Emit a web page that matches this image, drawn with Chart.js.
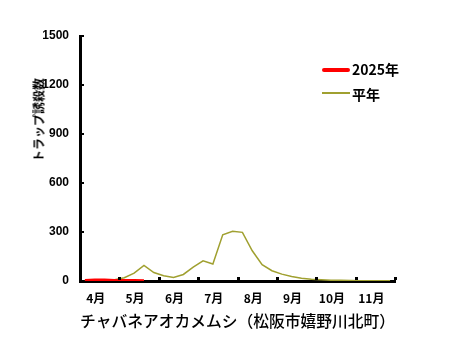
<!DOCTYPE html>
<html><head><meta charset="utf-8">
<script src="https://cdn.jsdelivr.net/npm/chart.js@4"></script>
<style>
html,body{margin:0;padding:0;background:#fff;}
#wrap{position:relative;width:458px;height:353px;overflow:hidden;}
#c{position:absolute;left:0;top:0;}
.ytitle{position:absolute;left:38px;top:120px;transform:translate(-50%,-50%) rotate(-90deg);font:bold 12px 'Noto Sans CJK JP';white-space:nowrap;color:#000;}
.legtxt{position:absolute;font:bold 14px 'Noto Sans CJK JP';line-height:14px;color:#000;white-space:nowrap;}
.legline{position:absolute;}
</style></head>
<body>
<div id="wrap">
<canvas id="c" width="458" height="353"></canvas>
<div class="ytitle">トラップ誘殺数</div>
<div class="legline" style="left:322px;top:68px;width:28px;height:4px;background:#ff0000;border-radius:2px;"></div>
<div class="legtxt" style="left:352px;top:62px;">2025年</div>
<div class="legline" style="left:322px;top:92px;width:28px;height:1.5px;background:#a0a030;"></div>
<div class="legtxt" style="left:352px;top:87px;">平年</div>
</div>
<script>
const periods = ['4-1','4-2','4-3','4-4','5-1','5-2','5-3','5-4','6-1','6-2','6-3','6-4','7-1','7-2','7-3','7-4',
                 '8-1','8-2','8-3','8-4','9-1','9-2','9-3','9-4','10-1','10-2','10-3','10-4','11-1','11-2','11-3','11-4'];
const months = ['4月','5月','6月','7月','8月','9月','10月','11月'];
const yTicks = [0,300,600,900,1200,1500];
const series2025 = [1,4,5,2,1,1,0];
const seriesNormal = [2,8,6,8,20,48,96,52,32,22,40,85,124,104,283,305,298,185,100,63,42,28,17,10,7,5,4,3,2,1,1,1];
const xTitle = 'チャバネアオカメムシ（松阪市嬉野川北町）';

const tickPlugin = {
  id:'innerTicks',
  afterDraw(chart){
    const ctx = chart.ctx, ya = chart.scales.y, xm = chart.scales.xm;
    const ca = chart.chartArea;
    ctx.save();
    ctx.fillStyle = '#000';
    yTicks.forEach(v=>{
      const py = ya.getPixelForValue(v);
      ctx.fillRect(ca.left, Math.round(py)-1, 4, 2);
    });
    for(let i=1;i<=months.length;i++){
      const px = xm.getPixelForDecimal(i/months.length);
      ctx.fillRect(Math.round(px)-1, ca.bottom-4, 3, 3);
    }
    ctx.restore();
  }
};

new Chart(document.getElementById('c'), {
  type:'line',
  data:{
    labels: periods,
    datasets:[
      {label:'2025年', data: series2025, borderColor:'#ff0000', borderWidth:3.5, pointRadius:0, tension:0, fill:false},
      {label:'平年', data: seriesNormal, borderColor:'#a0a030', borderWidth:1.5, pointRadius:0, tension:0, fill:false}
    ]
  },
  options:{
    responsive:false,
    animation:false,
    events:[],
    layout:{padding:{left:0,top:36,right:63,bottom:0}},
    plugins:{legend:{display:false},tooltip:{enabled:false}},
    scales:{
      x:{type:'category', labels: periods, offset:true, position:'bottom',
         ticks:{display:false}, grid:{display:false, drawTicks:false},
         border:{display:true,color:'#000',width:3},
         afterFit(s){s.height=0;}},
      xm:{type:'category', labels: months, offset:true, position:'bottom',
         grid:{display:false, drawTicks:false}, border:{display:false},
         ticks:{color:'#000', font:{family:'Noto Sans CJK JP', size:12, weight:'bold'}, padding:10, labelOffset:-4, maxRotation:0, autoSkip:false},
         title:{display:true, text:xTitle, color:'#000', font:{family:'Noto Sans CJK JP', size:16, weight:'500'}, padding:{top:0,bottom:22}},
         afterFit(s){s.height=72;}},
      y:{type:'linear', min:0, max:1500,
         afterBuildTicks(s){s.ticks = yTicks.map(v=>({value:v}));},
         grid:{display:false, drawTicks:false},
         border:{display:true,color:'#000',width:3},
         ticks:{color:'#000', font:{family:'Liberation Sans', size:12, weight:'bold'}, padding:11, callback:(v)=>String(v)},
         afterFit(s){s.width=80;}}
    }
  },
  plugins:[tickPlugin]
});
</script>
</body></html>
